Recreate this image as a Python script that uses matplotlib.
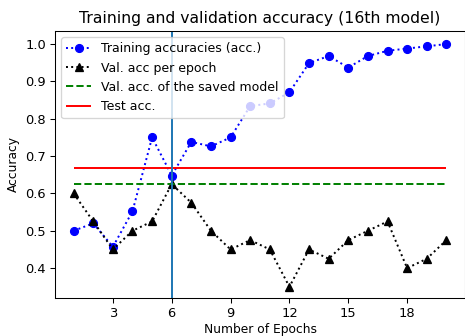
import matplotlib
matplotlib.use('Agg')
import matplotlib.pyplot as plt
from matplotlib.ticker import MultipleLocator

epochs = list(range(1, 21))
train_acc = [0.50, 0.52, 0.457, 0.552, 0.75, 0.648, 0.738, 0.726, 0.75, 0.834,
             0.841, 0.871, 0.949, 0.968, 0.937, 0.968, 0.982, 0.988, 0.994, 1.0]
val_acc = [0.60, 0.525, 0.45, 0.50, 0.525, 0.625, 0.575, 0.50, 0.45, 0.475,
           0.45, 0.35, 0.45, 0.425, 0.475, 0.50, 0.525, 0.40, 0.425, 0.475]
saved_val_acc = 0.625
test_acc = 0.667
best_epoch = 6

# the reference looks like a figure drawn at ~94 dpi
dpi = 94
fig = plt.figure(figsize=(465 / dpi, 336 / dpi), dpi=dpi)
ax = fig.add_axes([55 / 465, 1 - 298 / 336, 410 / 465, 267 / 336])

ax.plot(epochs, train_acc, 'o:', color='blue', label='Training accuracies (acc.)')
ax.plot(epochs, val_acc, '^:', color='black', label='Val. acc per epoch')
ax.hlines(saved_val_acc, epochs[0], epochs[-1], colors='green', linestyles='--',
          label='Val. acc. of the saved model')
ax.hlines(test_acc, epochs[0], epochs[-1], colors='red', label='Test acc.')
ax.axvline(best_epoch)

ax.xaxis.set_major_locator(MultipleLocator(3))
ax.set_ylim(0.32, 1.035)
ax.set_xlabel('Number of Epochs', fontsize=9.4, labelpad=2)
ax.set_ylabel('Accuracy', fontsize=9.4)
ax.set_title('Training and validation accuracy (16th model)')
ax.legend(loc='upper left', fontsize=9.6)

fig.savefig('out.png', dpi=dpi)
